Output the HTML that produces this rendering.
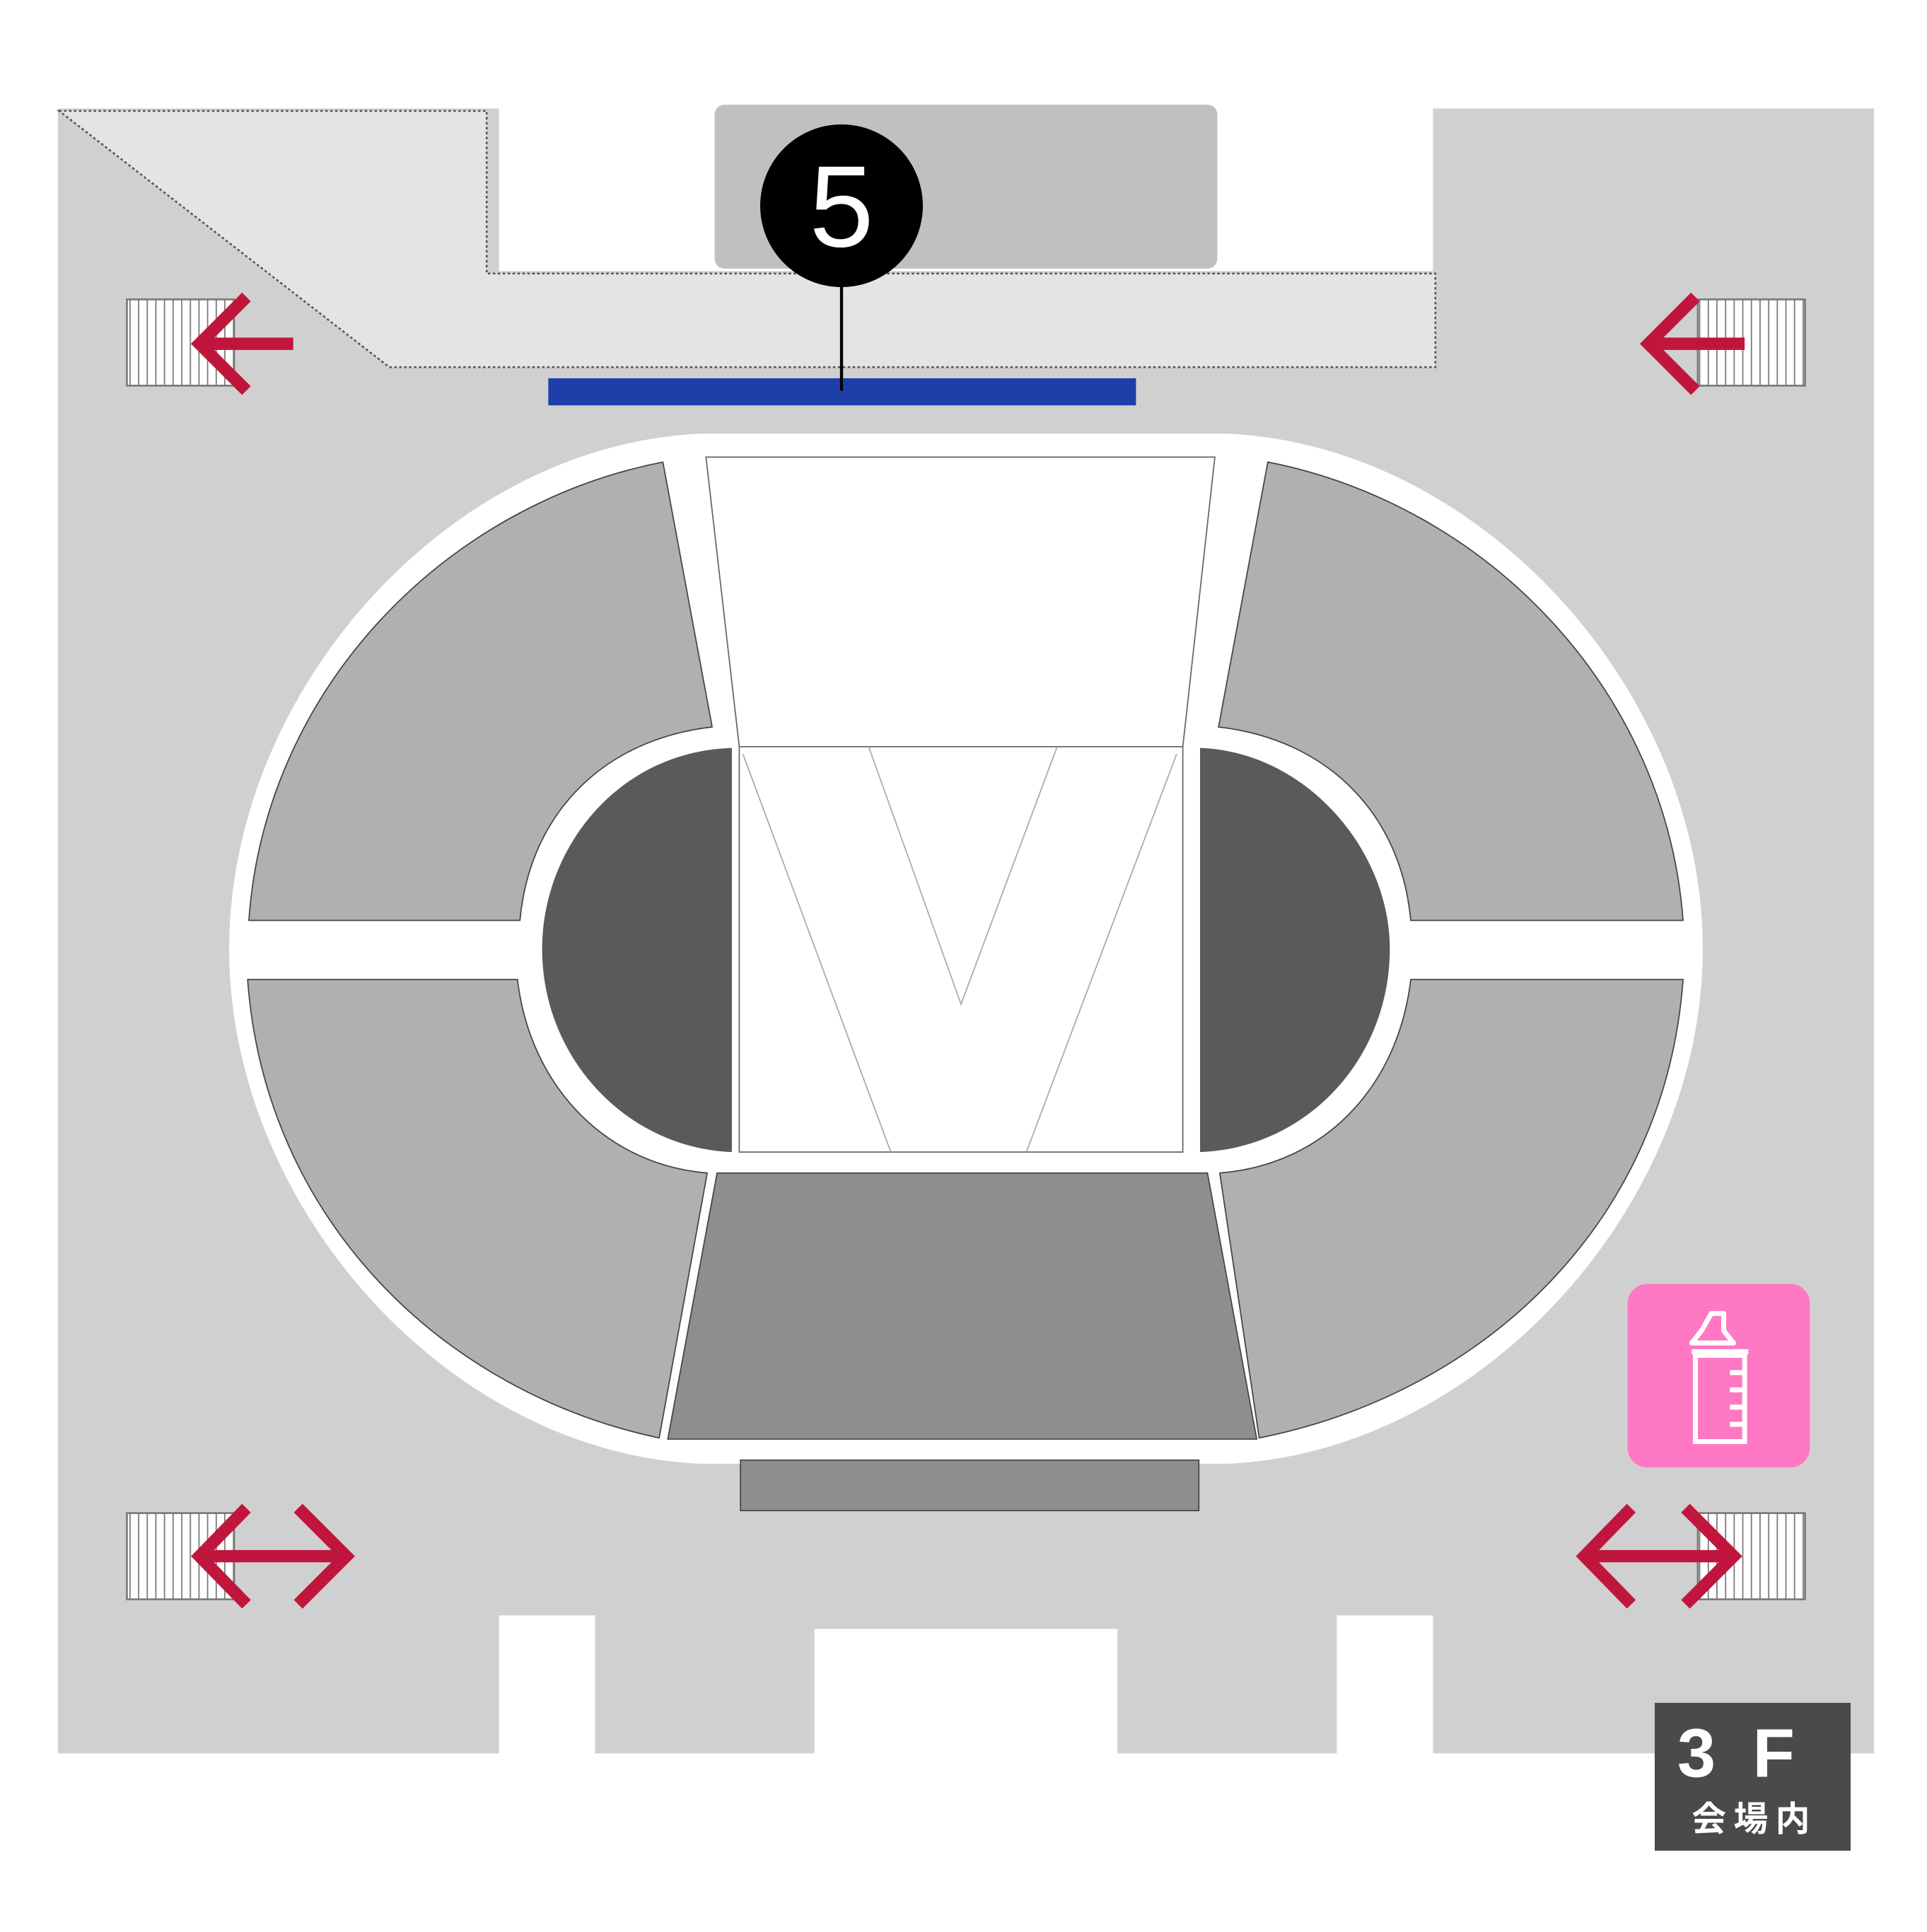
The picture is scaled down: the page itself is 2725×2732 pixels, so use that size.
<!DOCTYPE html>
<html><head><meta charset="utf-8"><style>
html,body{margin:0;padding:0;background:#fff;}
svg{display:block;}
</style></head><body>
<svg width="2725" height="2732" viewBox="0 0 1564 1568" preserveAspectRatio="none" xmlns="http://www.w3.org/2000/svg">
<rect width="1564" height="1568" fill="#fff"/>
<path d="M47,88 H405 V220 H1163 V88 H1521 V1423 H1163 V1311 H1085 V1423 H907 V1322 H661 V1423 H483 V1311 H405 V1423 H47 Z" fill="#d0d0d0"/>
<path d="M48,90 H395 V222 H1165 V298 H316 Z" fill="#e4e4e4" stroke="#555" stroke-width="1.5" stroke-dasharray="2,2"/>
<rect x="580" y="85" width="408" height="133" rx="8" fill="#c0c0c0"/>
<rect x="445" y="307" width="477" height="22" fill="#1e3fa8"/>
<line x1="683" y1="230" x2="683" y2="317" stroke="#000" stroke-width="2.5"/>
<circle cx="683" cy="167" r="66" fill="#000"/>
<text x="683" y="200" font-family="Liberation Sans, sans-serif" font-size="94" fill="#fff" text-anchor="middle">5</text>
<path d="M570,352 H995 C1200,360 1382,560 1382,770 C1382,980 1200,1180 995,1188 H570 C365,1180 186,980 186,770 C186,560 365,360 570,352 Z" fill="#fff"/>
<g stroke="#444" stroke-width="1" fill="#b0b0b0">
<path d="M538,375 C360,410 215,560 202,747 L422,747 C430,660 490,600 578,590 Z"/>
<path d="M1029,375 C1207,410 1352,560 1366,747 L1145,747 C1137,660 1077,600 989,590 Z"/>
<path d="M201,795 L420,795 C430,880 490,945 574,952 L535,1167 C360,1130 215,990 201,795 Z"/>
<path d="M1366,795 L1145,795 C1135,880 1077,945 990,952 L1022,1167 C1207,1130 1352,990 1366,795 Z"/>
<path d="M582,952 L980,952 L1020,1168 L542,1168 Z" fill="#8e8e8e"/>
</g>
<path d="M573,371 L986,371 L960,606 L600,606 Z" fill="#fff" stroke="#666" stroke-width="1"/>
<rect x="600" y="606" width="360" height="329" fill="#fff" stroke="#666" stroke-width="1"/>
<g stroke="#aaa" stroke-width="1" fill="none">
<path d="M603,612 L723,935"/>
<path d="M705,606 L780,815 L858,606"/>
<path d="M955,612 L833,935"/>
</g>
<path d="M594,607 C500,610 440,690 440,770 C440,860 510,932 594,935 Z" fill="#5a5a5a"/>
<path d="M974,607 C1060,610 1128,690 1128,770 C1128,860 1060,932 974,935 Z" fill="#5a5a5a"/>
<rect x="601" y="1185" width="372" height="41" fill="#8e8e8e" stroke="#444" stroke-width="1"/>
<defs>
<pattern id="st" width="7" height="10" patternUnits="userSpaceOnUse">
<rect width="7" height="10" fill="#fff"/><line x1="0.5" y1="0" x2="0.5" y2="10" stroke="#777" stroke-width="1"/>
</pattern>
</defs>
<g fill="url(#st)" stroke="#777" stroke-width="1.5">
<rect x="103" y="243" width="87" height="70"/>
<rect x="1378" y="243" width="87" height="70"/>
<rect x="103" y="1228" width="87" height="70"/>
<rect x="1378" y="1228" width="87" height="70"/>
</g>
<g stroke="#c0163e" stroke-width="10" fill="none">
<line x1="160" y1="279" x2="238" y2="279"/><path d="M200,241 L162,279 L200,317"/>
<line x1="1338" y1="279" x2="1416" y2="279"/><path d="M1376,241 L1338,279 L1376,317"/>
<line x1="162" y1="1263" x2="280" y2="1263"/><path d="M200,1224 L162,1263 L200,1302"/><path d="M242,1224 L281,1263 L242,1302"/>
<line x1="1287" y1="1263" x2="1406" y2="1263"/><path d="M1324,1224 L1286,1263 L1324,1302"/><path d="M1368,1224 L1407,1263 L1368,1302"/>
</g>
<rect x="1321" y="1042" width="148" height="149" rx="16" fill="#ff78c4"/>
<g stroke="#fff" stroke-width="4" fill="none">
<path d="M1389,1066 h10 v14 l8,10 h-34 l8,-10 z" stroke-linejoin="round"/>
<rect x="1376" y="1100" width="40" height="70"/>
<path d="M1404,1114 h12 M1404,1128 h12 M1404,1142 h12 M1404,1156 h12"/>
<line x1="1373" y1="1097" x2="1419" y2="1097"/>
</g>
<rect x="1343" y="1382" width="159" height="120" fill="#4a4a4a"/>
<text x="1424" y="1442" font-family="Liberation Sans, sans-serif" font-weight="bold" font-size="56" fill="#fff" text-anchor="middle" letter-spacing="30">3F</text>
<text x="1424" y="1486" font-family="Liberation Sans, 'Noto Sans CJK JP', sans-serif" font-weight="bold" font-size="28" fill="#fff" text-anchor="middle" letter-spacing="6">会場内</text>
</svg>
</body></html>
